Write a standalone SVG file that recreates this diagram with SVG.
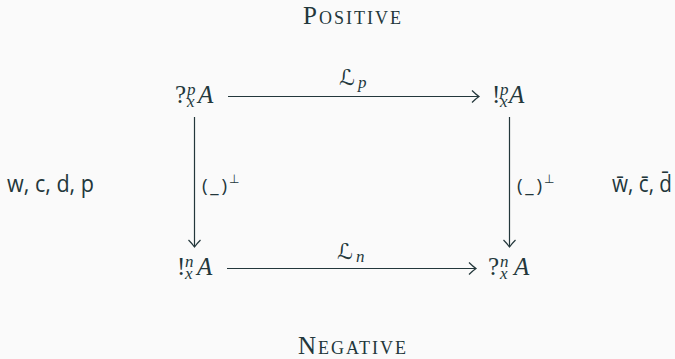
<svg xmlns="http://www.w3.org/2000/svg" width="675" height="359" viewBox="0 0 675 359">
<defs>
<style>
.bg{fill:#fafafa}
text{fill:#23373b}
.sc{font-family:"Liberation Serif",serif;font-size:25px;font-variant:small-caps}
.up{font-family:"Liberation Serif",serif;font-size:25px}
.it{font-family:"Liberation Serif",serif;font-size:25px;font-style:italic}
.sub{font-family:"Liberation Serif",serif;font-size:17px;font-style:italic}
.scr{font-family:"DejaVu Serif","DejaVu Sans",serif;font-size:22px;font-style:italic}
.sans{font-family:"Open Sans","Noto Sans",sans-serif;font-size:23px}
.lab{font-family:"Open Sans","Noto Sans",sans-serif;font-size:19px}
.labs{font-family:"DejaVu Sans",sans-serif;font-size:12px}
.edge{stroke:#23373b;stroke-width:1.2;fill:none}
</style>
<marker id="ah" markerUnits="userSpaceOnUse" markerWidth="16" markerHeight="16" refX="8" refY="8" orient="auto" overflow="visible">
<path d="M1,2 Q5,6 8,8 Q5,10 1,14" fill="none" stroke="#23373b" stroke-width="1.2"/>
</marker>
</defs>
<rect class="bg" x="0" y="0" width="675" height="359"/>

<text class="sc" x="352" y="24" text-anchor="middle" textLength="98" lengthAdjust="spacing">Positive</text>
<text class="sc" x="352" y="354" text-anchor="middle" textLength="108" lengthAdjust="spacing">Negative</text>

<g id="node-tl">
<text class="up" x="175" y="103">?</text>
<text class="sub" x="187" y="95">p</text>
<text class="sub" x="187" y="107">x</text>
<text class="it" x="198" y="103">A</text>
</g>
<g id="node-tr">
<text class="up" x="492" y="103">!</text>
<text class="sub" x="500" y="95">p</text>
<text class="sub" x="500" y="107">x</text>
<text class="it" x="509" y="103">A</text>
</g>
<g id="node-bl">
<text class="up" x="177" y="275">!</text>
<text class="sub" x="185" y="267">n</text>
<text class="sub" x="185" y="279">x</text>
<text class="it" x="197" y="275">A</text>
</g>
<g id="node-br">
<text class="up" x="488" y="275">?</text>
<text class="sub" x="500" y="267">n</text>
<text class="sub" x="500" y="279">x</text>
<text class="it" x="514" y="275">A</text>
</g>

<g id="side-left">
<text class="sans" x="7" y="192" textLength="87" lengthAdjust="spacingAndGlyphs">w, c, d, p</text>
</g>
<g id="side-right">
<text class="sans" x="612" y="192" textLength="60" lengthAdjust="spacingAndGlyphs">w̄, c̄, d̄</text>
</g>

<g id="connectors">
<line class="edge" x1="228" y1="96.5" x2="479" y2="96.5" marker-end="url(#ah)"/>
<line class="edge" x1="227" y1="268.5" x2="476" y2="268.5" marker-end="url(#ah)"/>
<line class="edge" x1="194.5" y1="117" x2="194.5" y2="247" marker-end="url(#ah)"/>
<line class="edge" x1="509.5" y1="117" x2="509.5" y2="247" marker-end="url(#ah)"/>
<text class="scr" x="339" y="85">ℒ</text>
<text class="sub" x="358" y="88">p</text>
<text class="scr" x="337" y="259">ℒ</text>
<text class="sub" x="356" y="262">n</text>
<text class="lab" x="202" y="192" textLength="25" lengthAdjust="spacing">(_)</text>
<text class="labs" x="229" y="183">⊥</text>
<text class="lab" x="517" y="192" textLength="25" lengthAdjust="spacing">(_)</text>
<text class="labs" x="544" y="183">⊥</text>
</g>
</svg>
